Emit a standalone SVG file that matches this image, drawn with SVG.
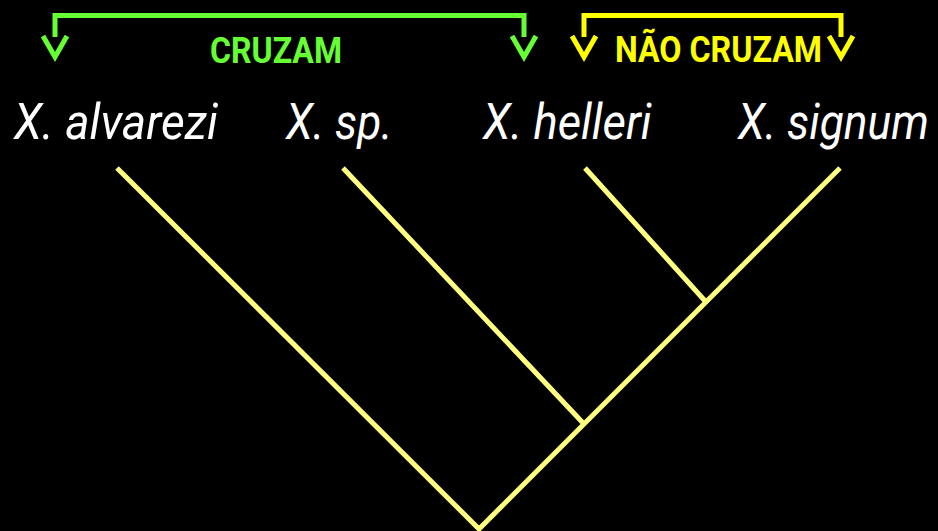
<svg xmlns="http://www.w3.org/2000/svg" width="938" height="531" viewBox="0 0 938 531">
<style>
.sp{font-family:"Liberation Sans Narrow","Roboto","Liberation Sans",sans-serif;font-style:italic;font-size:50px;fill:#ffffff}
.hd{font-family:"Liberation Sans Narrow","Roboto","Liberation Sans",sans-serif;font-weight:bold;font-size:36px}
.br{fill:none;stroke-width:5}
.tr{fill:none;stroke:#ffff80;stroke-width:5;stroke-linecap:butt}
</style>
<rect width="938" height="531" fill="#000000"/>
<g id="cruzam">
<path class="br" stroke="#66ff33" d="M55,37 V15.5 H524 V37"/>
<polyline class="br" stroke="#66ff33" points="43,36 55,57 67,36"/>
<polyline class="br" stroke="#66ff33" points="512,36 524,57 536,36"/>
<text class="hd" fill="#66ff33" x="210" y="63" textLength="132" lengthAdjust="spacingAndGlyphs">CRUZAM</text>
</g>
<g id="nao-cruzam">
<path class="br" stroke="#ffff00" d="M584,37 V15.5 H841 V37"/>
<polyline class="br" stroke="#ffff00" points="572,36 584,57 596,36"/>
<polyline class="br" stroke="#ffff00" points="829,36 841,57 853,36"/>
<text class="hd" fill="#ffff00" x="615" y="62" textLength="207" lengthAdjust="spacingAndGlyphs">NÃO CRUZAM</text>
</g>
<g id="alvarezi"><text class="sp" transform="translate(14,139) scale(0.86,1)" x="0" y="0" textLength="237" lengthAdjust="spacingAndGlyphs">X. alvarezi</text></g>
<g id="sp"><text class="sp" transform="translate(286,139) scale(0.86,1)" x="0" y="0" textLength="124" lengthAdjust="spacingAndGlyphs">X. sp.</text></g>
<g id="helleri"><text class="sp" transform="translate(483,139) scale(0.86,1)" x="0" y="0" textLength="196" lengthAdjust="spacingAndGlyphs">X. helleri</text></g>
<g id="signum"><text class="sp" transform="translate(738,139) scale(0.86,1)" x="0" y="0" textLength="222" lengthAdjust="spacingAndGlyphs">X. signum</text></g>
<g id="connectors">
<line class="tr" x1="117" y1="168" x2="480" y2="530"/>
<line class="tr" x1="840" y1="168" x2="478" y2="530"/>
<line class="tr" x1="343" y1="168" x2="584" y2="424"/>
<line class="tr" x1="585" y1="168" x2="706" y2="302"/>
</g>
</svg>
